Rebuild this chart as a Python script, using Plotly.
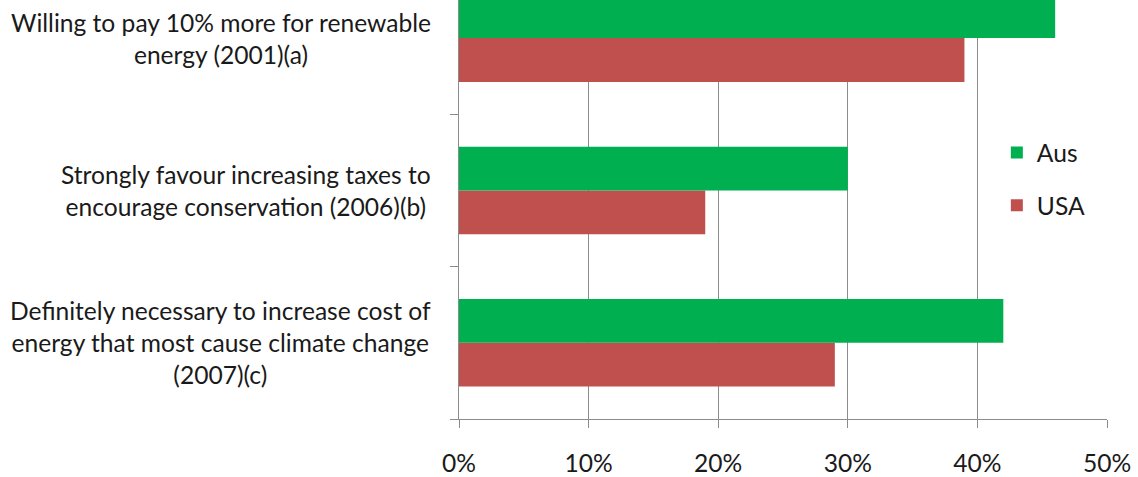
import plotly.graph_objects as go

categories = [
    "Willing to pay 10% more for renewable<br>energy (2001)(a)",
    "Strongly favour increasing taxes to<br>encourage conservation (2006)(b)",
    "Definitely necessary to increase cost of<br>energy that most cause climate change<br>(2007)(c)",
]
aus = [46, 30, 42]
usa = [39, 19, 29]
x_ticks = [0, 10, 20, 30, 40, 50]
x_tick_labels = ["0%", "10%", "20%", "30%", "40%", "50%"]

FONT = "Lato"
GRID = "#8c8c8c"
TXT = "#1a1a1a"
FS = 24.6

fig = go.Figure()
fig.add_trace(go.Bar(y=categories, x=usa, name="USA", orientation="h",
                     marker=dict(color="#C0504D", line=dict(width=0)),
                     legendgroup="usa", legendrank=2))
fig.add_trace(go.Bar(y=categories, x=aus, name="Aus", orientation="h",
                     marker=dict(color="#00B050", line=dict(width=0)),
                     legendgroup="aus", legendrank=1))

# category labels: lines centred, block right-aligned to the axis
for c in categories:
    fig.add_annotation(text=c, xref="paper", yref="y", x=0, y=c,
                       xanchor="right", yanchor="middle", align="center",
                       xshift=-26, showarrow=False,
                       font=dict(family=FONT, size=FS, color=TXT))

fig.update_layout(
    width=1138, height=477,
    margin=dict(l=459, r=31, t=0, b=56),
    paper_bgcolor="white", plot_bgcolor="white",
    barmode="group", bargap=0.425, bargroupgap=0,
    font=dict(family=FONT, size=FS, color=TXT),
    legend=dict(x=0.830, y=0.69, xanchor="left", yanchor="top",
                traceorder="grouped", tracegroupgap=18,
                font=dict(family=FONT, size=FS, color=TXT),
                bgcolor="rgba(0,0,0,0)"),
    showlegend=True,
)
fig.update_xaxes(range=[0, 50], tickmode="array", tickvals=x_ticks, ticktext=x_tick_labels,
                 showgrid=True, gridcolor=GRID, gridwidth=1,
                 showline=True, linecolor=GRID, linewidth=1,
                 ticks="outside", ticklen=8, tickcolor=GRID,
                 ticklabelstandoff=14,
                 zeroline=False,
                 tickfont=dict(family=FONT, size=FS, color=TXT))
fig.update_yaxes(categoryorder="array", categoryarray=categories[::-1],
                 range=[-0.5, 2.25], showticklabels=False,
                 tickson="boundaries", ticks="outside", ticklen=8, tickcolor=GRID,
                 showgrid=False, showline=True, linecolor=GRID, linewidth=1,
                 zeroline=False)

fig.write_html("out.html")
